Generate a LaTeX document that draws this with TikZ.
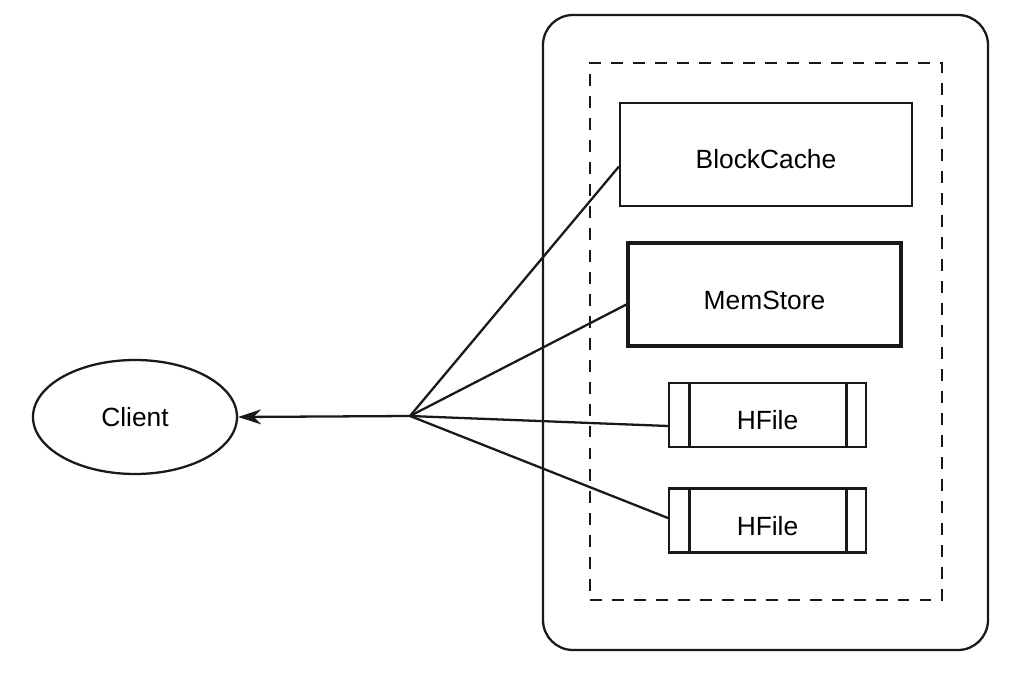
\documentclass[tikz,border=0pt]{standalone}
\usepackage{fontspec}
\setmainfont{Liberation Sans}
\usetikzlibrary{arrows.meta,shapes.geometric}
\tikzset{
  rsbox/.style={draw=black!90, line width=1.2pt, align=center, font=\fontsize{15}{18}\selectfont,
    text height=0.58cm, text depth=0cm,
    minimum width=5.84cm, minimum height=2.06cm, fill=white},
  rsmem/.style={rsbox, line width=1.8pt, minimum width=5.46cm},
  rsfile/.style={rsbox, minimum width=3.94cm, minimum height=1.28cm,
    path picture={\draw[line width=1.7pt]
      ([xshift=0.4cm]path picture bounding box.north west) -- ([xshift=0.4cm]path picture bounding box.south west)
      ([xshift=-0.4cm]path picture bounding box.north east) -- ([xshift=-0.4cm]path picture bounding box.south east);}},
  rsclient/.style={ellipse, draw=black!90, line width=1.3pt, font=\fontsize{15}{18}\selectfont,
    minimum width=4.08cm, minimum height=2.28cm},
  rsline/.style={line width=1.3pt, draw=black!90},
  rsarrow/.style={rsline, -{Stealth[length=4.6mm, width=3mm, inset=1.5mm]}}
}
\begin{document}
\begin{tikzpicture}
  \useasboundingbox (0,0) rectangle (20.32,13.44);
  % region server and its store
  \node[draw=black!90, line width=1.3pt, rounded corners=0.6cm, minimum width=8.9cm, minimum height=12.7cm] (server) at (15.31,6.79) {};
  \node[draw=black!90, line width=1.3pt, dash pattern=on 6.8pt off 5.7pt, minimum width=7.04cm, minimum height=10.74cm] (region) at (15.32,6.81) {};
  \node[rsbox] (bc) at (15.32,10.35) {BlockCache};
  \node[rsmem] (ms) at (15.29,7.55) {MemStore};
  \node[rsfile] (hf1) at (15.35,5.14) {HFile};
  \node[rsfile] (hf2) at (15.35,3.03) {HFile};
  \node[rsclient] (client) at (2.7,5.1) {Client};
  \coordinate (hub) at (8.2,5.12);
  \draw[rsline] (hub) -- ([yshift=-0.24cm]bc.west);
  \draw[rsline] (hub) -- ([yshift=-0.2cm]ms.west);
  \draw[rsline] (hub) -- ([yshift=-0.22cm]hf1.west);
  \draw[rsline] (hub) -- ([yshift=0.05cm]hf2.west);
  \draw[rsarrow] (hub) -- (client.east);
\end{tikzpicture}
\end{document}
